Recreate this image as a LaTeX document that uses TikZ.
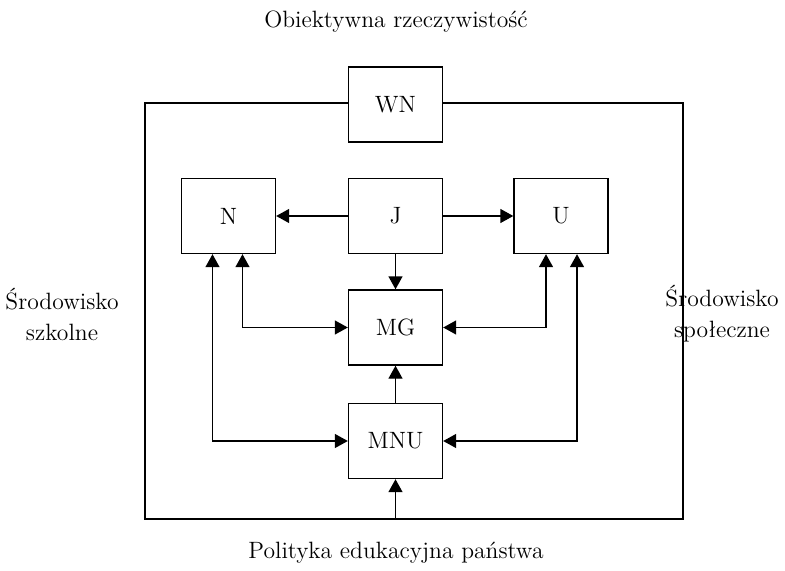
\documentclass[tikz,border=0pt]{standalone}
\usetikzlibrary{arrows.meta,calc}
\begin{document}
\begin{tikzpicture}[x=0.5pt,y=-0.5pt,
  font=\fontsize{11.8}{15.5}\selectfont,
  every path/.style={line width=0.7pt},
  blockbox/.style={draw, fill=white, minimum width=47pt, minimum height=37.5pt, inner sep=0pt},
  link/.style={-{Triangle[length=6.5pt,width=7pt]}},
  dlink/.style={{Triangle[length=6.5pt,width=7pt]}-{Triangle[length=6.5pt,width=7pt]}},
  caption/.style={align=center, inner sep=0pt}]
\useasboundingbox (0,0) rectangle (785,571);

% outer frame
\draw (145,103) rectangle (683,519);
\coordinate (base) at (395.5,519);

% blocks
\node[blockbox] (WN)  at (395.5,104.5) {WN};
\node[blockbox] (N)   at (228.5,216)   {N};
\node[blockbox] (J)   at (395.5,216)   {J};
\node[blockbox] (U)   at (561,216)     {U};
\node[blockbox] (MG)  at (395.5,327.5) {MG};
\node[blockbox] (MNU) at (395.5,441)   {MNU};

% connectors
\draw[link] (J.west) -- (N.east);
\draw[link] (J.east) -- (U.west);
\draw[link] (J.south) -- (MG.north);
\draw[link] (MNU.north) -- (MG.south);
\draw[link] (base) -- (MNU.south);
\draw[dlink] ($(N.south)+(14,0)$) |- (MG.west);
\draw[dlink] ($(N.south)+(-16,0)$) |- (MNU.west);
\draw[dlink] ($(U.south)+(-15,0)$) |- (MG.east);
\draw[dlink] ($(U.south)+(16,0)$) |- (MNU.east);

% surrounding labels
\node[caption] (top)    at (396,22)  {Obiektywna rzeczywistość};
\node[caption] (left)   at (62,314)  {Środowisko\\szkolne};
\node[caption] (right)  at (722,314) {Środowisko\\społeczne};
\node[caption] (bottom) at (396,553) {Polityka edukacyjna państwa};
\end{tikzpicture}
\end{document}
